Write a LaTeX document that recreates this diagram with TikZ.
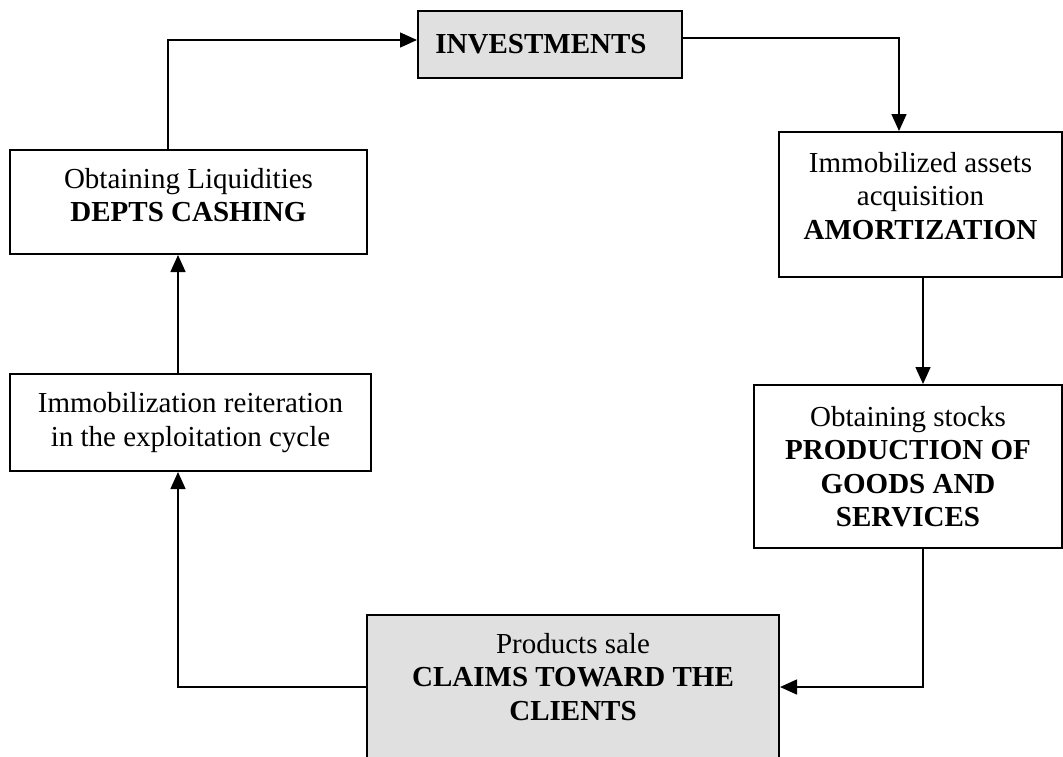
\documentclass[tikz,border=0pt]{standalone}
\usepackage{fontspec}
\setmainfont{Liberation Serif}
\usetikzlibrary{arrows.meta}
\begin{document}
\begin{tikzpicture}[x=0.5pt,y=-0.5pt,
  boxstyle/.style={draw=black, line width=1pt, rectangle, inner sep=0pt, align=center,
    font=\fontsize{14.5pt}{16.75pt}\selectfont},
  greybox/.style={boxstyle, fill=gray!24},
  plaintext/.style={inner sep=0pt, align=center, font=\fontsize{14.5pt}{16.75pt}\selectfont},
  arr/.style={line width=0.75pt, -{Triangle[length=8.5pt,width=7.5pt]}}]
\path[use as bounding box] (0,0) rectangle (1063,756);
\clip (0,0) rectangle (1063,756);

\node[greybox, minimum width=132pt, minimum height=33.5pt] (inv) at (550,44.5) {\textbf{INVESTMENTS}\hspace*{9pt}};
\node[boxstyle, minimum width=178.5pt, minimum height=52pt] (liq) at (188.5,202)
  {Obtaining Liquidities\\\textbf{DEPTS CASHING}\rule[-7pt]{0pt}{7pt}};
\node[boxstyle, minimum width=180.5pt, minimum height=48.5pt] (imm) at (190.5,422.5)
  {Immobilization reiteration\\in the exploitation cycle};
\node[boxstyle, minimum width=141.5pt, minimum height=72.5pt] (acq) at (920.5,204.5)
  {Immobilized assets\\acquisition\\\textbf{AMORTIZATION}\rule[-9pt]{0pt}{9pt}};
\node[boxstyle, minimum width=154pt, minimum height=81.5pt] (stk) at (908,466.5)
  {Obtaining stocks\\\textbf{PRODUCTION OF}\\\textbf{GOODS AND}\\\textbf{SERVICES}};
\node[greybox, minimum width=206pt, minimum height=92.5pt] (prod) at (573,707.5) {};
\node[plaintext] (prodtxt) at (573,677)
  {Products sale\\\textbf{CLAIMS TOWARD THE}\\\textbf{CLIENTS}};

\coordinate (c1) at (168,40);
\coordinate (c2) at (899,38);
\coordinate (c3) at (923,0);
\coordinate (c4) at (923,687);
\coordinate (c5) at (178,0);

\draw[arr] (liq.north -| c1) |- (inv.west |- c1);
\draw[arr] (inv.east |- c2) -| (acq.north -| c2);
\draw[arr] (acq.south -| c3) -- (stk.north -| c3);
\draw[arr] (stk.south -| c4) |- (prod.east |- c4);
\draw[arr] (prod.west |- c4) -| (imm.south -| c5);
\draw[arr] (imm.north -| c5) -- (liq.south -| c5);
\end{tikzpicture}
\end{document}
